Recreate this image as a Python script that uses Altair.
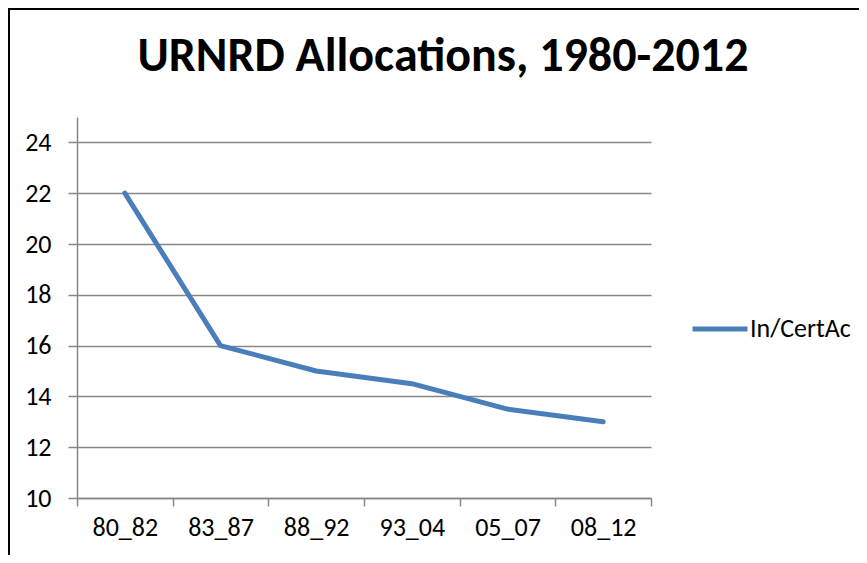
import altair as alt
import pandas as pd

periods = ["80_82", "83_87", "88_92", "93_04", "05_07", "08_12"]
values = [22, 16, 15, 14.5, 13.5, 13]
series_name = "In/CertAc"
title_text = "URNRD Allocations, 1980-2012"
y_ticks = [10, 12, 14, 16, 18, 20, 22, 24]

FONT = "Carlito, Open Sans"
LINE_COLOR = "#4A7EBB"
GRID = "#868686"

df = pd.DataFrame({"period": periods, "value": values, "series": [series_name] * len(periods)})

W, H = 574, 381

line = alt.Chart(df).mark_line(strokeWidth=5, strokeCap="round", strokeJoin="round").encode(
    x=alt.X("period:N", sort=periods, title=None,
            scale=alt.Scale(paddingInner=0, paddingOuter=0),
            axis=alt.Axis(labelAngle=0, tickBand="extent", grid=False, domainColor=GRID,
                          domainWidth=1.5, tickColor=GRID, tickWidth=1.5, tickSize=8,
                          labelFont=FONT, labelFontSize=26, labelColor="black",
                          labelPadding=8)),
    y=alt.Y("value:Q", title=None, scale=alt.Scale(domain=[10, 25], nice=False, zero=False),
            axis=alt.Axis(values=y_ticks, grid=True, gridColor=GRID, gridWidth=1.5,
                          domainColor=GRID, domainWidth=1.5, tickColor=GRID, tickWidth=1.5,
                          tickSize=9, labelFont=FONT, labelFontSize=26, labelColor="black",
                          labelPadding=17)),
    color=alt.Color("series:N", scale=alt.Scale(domain=[series_name], range=[LINE_COLOR]),
                    legend=alt.Legend(title=None, orient="none", legendX=613, legendY=182,
                                      symbolType="stroke", symbolSize=3025,
                                      symbolStrokeWidth=5, labelFont=FONT, labelFontSize=26,
                                      labelColor="black", labelOffset=0)),
)

title_df = pd.DataFrame({"t": [title_text]})
title = alt.Chart(title_df).mark_text(font=FONT, fontSize=48, fontWeight="bold",
                                      color="black", align="center", baseline="alphabetic").encode(
    x=alt.value(366), y=alt.value(-46), text="t:N")

frame_df = pd.DataFrame({"a": [0]})
left_edge = alt.Chart(frame_df).mark_rule(color="black", strokeWidth=2).encode(
    x=alt.value(-68), y=alt.value(-109), y2=alt.value(600))
top_edge = alt.Chart(frame_df).mark_rule(color="black", strokeWidth=2).encode(
    x=alt.value(-69), x2=alt.value(900), y=alt.value(-108))

chart = alt.layer(left_edge, top_edge, line, title).properties(
    width=W, height=H,
    background="white",
    autosize=alt.AutoSizeParams(type="none"),
    padding={"left": 69, "top": 109, "right": 208, "bottom": 57},
).configure_view(stroke=None)

chart.save("out.html", embed_options={"renderer": "svg", "actions": False})
